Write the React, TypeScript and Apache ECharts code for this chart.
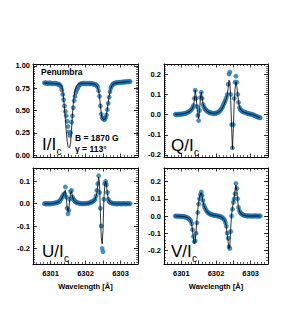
import React, { useEffect, useRef } from "react";
import * as echarts from "echarts";

// Wavelength sampling (Å)
const WAVELENGTH = [
  6300.825, 6300.85, 6300.875, 6300.9, 6300.925, 6300.95, 6300.975, 6301, 6301.025, 6301.05,
  6301.075, 6301.1, 6301.125, 6301.15, 6301.175, 6301.2, 6301.225, 6301.25, 6301.275, 6301.3,
  6301.325, 6301.35, 6301.375, 6301.4, 6301.425, 6301.45, 6301.475, 6301.5, 6301.525, 6301.55,
  6301.575, 6301.6, 6301.625, 6301.65, 6301.675, 6301.7, 6301.725, 6301.75, 6301.775, 6301.8,
  6301.825, 6301.85, 6301.875, 6301.9, 6301.925, 6301.95, 6301.975, 6302, 6302.025, 6302.05,
  6302.075, 6302.1, 6302.125, 6302.15, 6302.175, 6302.2, 6302.225, 6302.25, 6302.275, 6302.3,
  6302.325, 6302.35, 6302.375, 6302.4, 6302.425, 6302.45, 6302.475, 6302.5, 6302.525, 6302.55,
  6302.575, 6302.6, 6302.625, 6302.65, 6302.675, 6302.7, 6302.725, 6302.75, 6302.775, 6302.8,
  6302.825, 6302.85, 6302.875, 6302.9, 6302.925, 6302.95, 6302.975, 6303, 6303.025, 6303.05,
  6303.075, 6303.1, 6303.125, 6303.15, 6303.175, 6303.2, 6303.225, 6303.25, 6303.275,
];

const I_OBS = [
  0.81, 0.805, 0.81, 0.805, 0.8, 0.805, 0.81, 0.805, 0.8, 0.805,
  0.8, 0.8, 0.805, 0.8, 0.8, 0.795, 0.795, 0.79, 0.78, 0.765,
  0.73, 0.68, 0.62, 0.55, 0.49, 0.44, 0.38, 0.32, 0.26, 0.22,
  0.25, 0.37, 0.44, 0.53, 0.61, 0.66, 0.7, 0.73, 0.75, 0.77,
  0.785, 0.795, 0.8, 0.8, 0.805, 0.8, 0.805, 0.8, 0.8, 0.805,
  0.8, 0.8, 0.805, 0.8, 0.8, 0.8, 0.795, 0.795, 0.79, 0.785,
  0.78, 0.76, 0.72, 0.66, 0.55, 0.46, 0.42, 0.41, 0.4, 0.4,
  0.42, 0.45, 0.51, 0.58, 0.65, 0.71, 0.75, 0.775, 0.79, 0.8,
  0.805, 0.805, 0.81, 0.81, 0.81, 0.815, 0.81, 0.815, 0.815, 0.815,
  0.82, 0.815, 0.82, 0.82, 0.82, 0.825, 0.82, 0.825, 0.825,
];
const I_MODEL = [
  0.808, 0.808, 0.807, 0.806, 0.805, 0.805, 0.804, 0.803, 0.803, 0.802,
  0.802, 0.801, 0.8, 0.8, 0.799, 0.798, 0.796, 0.794, 0.79, 0.785,
  0.77, 0.72, 0.63, 0.52, 0.4, 0.27, 0.16, 0.1, 0.085, 0.09,
  0.14, 0.28, 0.44, 0.57, 0.66, 0.72, 0.76, 0.78, 0.79, 0.795,
  0.798, 0.8, 0.801, 0.801, 0.802, 0.802, 0.802, 0.802, 0.802, 0.802,
  0.802, 0.801, 0.8, 0.8, 0.799, 0.798, 0.796, 0.794, 0.79, 0.785,
  0.775, 0.755, 0.72, 0.66, 0.56, 0.47, 0.42, 0.4, 0.395, 0.4,
  0.42, 0.46, 0.52, 0.59, 0.66, 0.71, 0.75, 0.775, 0.79, 0.798,
  0.803, 0.806, 0.808, 0.81, 0.811, 0.812, 0.813, 0.814, 0.815, 0.816,
  0.817, 0.818, 0.818, 0.819, 0.82, 0.82, 0.821, 0.821, 0.822,
];

const Q_OBS = [
  0, 0.002, -0.001, 0.001, 0, 0.002, 0.001, 0.002, 0.003, 0.003,
  0.004, 0.005, 0.006, 0.008, 0.01, 0.012, 0.015, 0.018, 0.022, 0.027,
  0.033, 0.045, 0.08, 0.12, 0.08, 0.04, -0.005, -0.03, 0.02, 0.085,
  0.11, 0.08, 0.05, 0.038, 0.03, 0.024, 0.02, 0.016, 0.013, 0.011,
  0.009, 0.008, 0.007, 0.006, 0.005, 0.005, 0.006, 0.007, 0.008, 0.01,
  0.012, 0.016, 0.021, 0.027, 0.034, 0.042, 0.052, 0.062, 0.072, 0.085,
  0.1, 0.15, 0.2, 0.21, 0.1, -0.05, -0.165, -0.05, 0.08, 0.16,
  0.19, 0.16, 0.1, 0.06, 0.035, 0.025, 0.02, 0.017, 0.015, 0.013,
  0.011, 0.01, 0.008, 0.006, 0.005, 0.004, 0.003, 0.002, 0.001, 0,
  -0.002, -0.004, -0.006, -0.008, -0.01, -0.012, -0.013, -0.015, -0.016,
];
const Q_MODEL = [
  0.001, 0.001, 0.001, 0.002, 0.002, 0.002, 0.003, 0.003, 0.004, 0.004,
  0.005, 0.006, 0.007, 0.008, 0.01, 0.012, 0.014, 0.017, 0.021, 0.026,
  0.033, 0.045, 0.07, 0.12, 0.09, 0.04, 0, -0.02, 0.02, 0.08,
  0.11, 0.085, 0.055, 0.04, 0.031, 0.025, 0.02, 0.016, 0.013, 0.011,
  0.009, 0.008, 0.007, 0.006, 0.006, 0.006, 0.006, 0.007, 0.008, 0.01,
  0.012, 0.015, 0.019, 0.024, 0.03, 0.038, 0.047, 0.057, 0.068, 0.08,
  0.095, 0.13, 0.17, 0.16, 0.07, -0.06, -0.17, -0.07, 0.06, 0.13,
  0.16, 0.14, 0.1, 0.065, 0.04, 0.028, 0.021, 0.017, 0.014, 0.012,
  0.01, 0.009, 0.007, 0.006, 0.005, 0.004, 0.003, 0.002, 0.001, 0,
  -0.001, -0.003, -0.005, -0.007, -0.009, -0.011, -0.012, -0.014, -0.015,
];

const U_OBS = [
  0, 0.001, -0.001, 0, 0.001, 0, -0.001, 0.001, 0, 0.001,
  0.002, 0.002, 0.003, 0.004, 0.005, 0.006, 0.008, 0.01, 0.015, 0.02,
  0.028, 0.035, 0.04, 0.045, 0.075, 0.03, -0.02, -0.045, -0.03, 0.02,
  0.055, 0.06, 0.03, 0.02, 0.015, 0.01, 0.007, 0.005, 0.004, 0.003,
  0.002, 0.001, 0, 0, 0.001, 0, 0, 0.001, 0.001, 0.002,
  0.002, 0.003, 0.004, 0.006, 0.008, 0.01, 0.012, 0.015, 0.02, 0.035,
  0.06, 0.09, 0.125, 0.05, -0.02, -0.1, -0.2, -0.215, 0.02, 0.09,
  0.1, 0.085, 0.05, 0.02, 0.01, 0.006, 0.004, 0.003, 0.002, 0.001,
  0, 0.001, 0, -0.001, 0, 0.001, 0, 0, -0.001, 0,
  0.001, 0, 0, -0.001, 0, 0.001, 0, 0, 0,
];
const U_MODEL = [
  0, 0, 0, 0, 0, 0, 0, 0, 0.001, 0.001,
  0.001, 0.002, 0.002, 0.003, 0.004, 0.005, 0.007, 0.009, 0.013, 0.018,
  0.025, 0.033, 0.042, 0.055, 0.06, 0.025, -0.015, -0.035, -0.02, 0.02,
  0.05, 0.055, 0.035, 0.02, 0.013, 0.009, 0.006, 0.004, 0.003, 0.002,
  0.001, 0.001, 0, 0, 0, 0, 0, 0.001, 0.001, 0.001,
  0.002, 0.003, 0.004, 0.005, 0.007, 0.009, 0.011, 0.014, 0.02, 0.032,
  0.05, 0.08, 0.12, 0.09, -0.04, -0.15, -0.18, -0.12, 0.02, 0.08,
  0.1, 0.08, 0.045, 0.022, 0.012, 0.007, 0.004, 0.003, 0.002, 0.001,
  0.001, 0, 0, 0, 0, 0, 0, 0, 0, 0,
  0, 0, 0, 0, 0, 0, 0, 0, 0,
];

const V_OBS = [
  0, 0, -0.001, -0.001, -0.001, -0.002, -0.002, -0.002, -0.003, -0.003,
  -0.004, -0.005, -0.006, -0.008, -0.01, -0.013, -0.017, -0.022, -0.03, -0.045,
  -0.08, -0.12, -0.15, -0.145, -0.1, -0.04, 0.02, 0.07, 0.1, 0.125,
  0.14, 0.12, 0.09, 0.065, 0.05, 0.04, 0.03, 0.024, 0.019, 0.015,
  0.012, 0.01, 0.008, 0.006, 0.005, 0.004, 0.003, 0.002, 0.001, 0,
  -0.001, -0.002, -0.004, -0.006, -0.009, -0.013, -0.018, -0.025, -0.04, -0.06,
  -0.1, -0.13, -0.18, -0.19, -0.09, 0, 0.04, 0.08, 0.1, 0.13,
  0.19, 0.16, 0.1, 0.05, 0.03, 0.02, 0.014, 0.01, 0.007, 0.005,
  0.003, 0.002, 0.001, 0, 0, 0.001, 0, 0, -0.001, 0,
  0, 0, 0.001, 0, 0, 0, -0.001, 0, 0,
];
const V_MODEL = [
  0, 0, -0.001, -0.001, -0.001, -0.001, -0.002, -0.002, -0.003, -0.003,
  -0.004, -0.005, -0.006, -0.008, -0.01, -0.013, -0.017, -0.023, -0.032, -0.05,
  -0.09, -0.13, -0.16, -0.15, -0.09, -0.02, 0.04, 0.08, 0.11, 0.13,
  0.135, 0.115, 0.085, 0.063, 0.048, 0.038, 0.029, 0.023, 0.018, 0.014,
  0.011, 0.009, 0.007, 0.006, 0.005, 0.004, 0.003, 0.002, 0.001, 0,
  -0.001, -0.002, -0.004, -0.006, -0.009, -0.013, -0.019, -0.027, -0.042, -0.065,
  -0.11, -0.15, -0.19, -0.17, -0.07, 0.01, 0.05, 0.08, 0.11, 0.15,
  0.18, 0.15, 0.09, 0.05, 0.03, 0.019, 0.013, 0.009, 0.006, 0.004,
  0.003, 0.002, 0.001, 0, 0, 0, 0, 0, 0, 0,
  0, 0, 0, 0, 0, 0, 0, 0, 0,
];

const X_TICK_LABELS = [6301, 6302, 6303];
const I_TICKS = [0, 0.25, 0.5, 0.75, 1.0];
const Q_TICKS = [-0.2, -0.1, 0, 0.1, 0.2];
const U_TICKS = [-0.2, -0.1, 0, 0.1];
const V_TICKS = [-0.2, -0.1, 0, 0.1, 0.2];

const STOKES_LABELS = ["I/I", "Q/I", "U/I", "V/I"];
const X_NAME = "Wavelength [Å]";

const FONT = "'Liberation Sans', Arial, Helvetica, sans-serif";

const PANELS = [
  { obs: I_OBS, model: I_MODEL, min: -0.02, max: 1.02, fine: 0.02, ticks: I_TICKS, dec: 2, bottom: false },
  { obs: Q_OBS, model: Q_MODEL, min: -0.21, max: 0.25, fine: 0.01, ticks: Q_TICKS, dec: 1, bottom: false },
  { obs: U_OBS, model: U_MODEL, min: -0.27, max: 0.16, fine: 0.01, ticks: U_TICKS, dec: 1, bottom: true },
  { obs: V_OBS, model: V_MODEL, min: -0.28, max: 0.28, fine: 0.02, ticks: V_TICKS, dec: 1, bottom: true },
];

const RECTS = [
  { left: 33, top: 64, width: 105, height: 93 },
  { left: 164, top: 64, width: 104, height: 93 },
  { left: 33, top: 168, width: 105, height: 96 },
  { left: 164, top: 168, width: 104, height: 96 },
];
const LABEL_POS = [
  [42, 144],
  [171, 145],
  [42, 251],
  [171, 251],
];

const pair = (ys: number[]) => WAVELENGTH.map((w, i) => [w, ys[i]]);

function measure(text: string, font: string): number {
  const c = document.createElement("canvas").getContext("2d");
  if (!c) return text.length * 8;
  c.font = font;
  return c.measureText(text).width;
}

export default function App() {
  const ref = useRef<HTMLDivElement>(null);
  useEffect(() => {
    if (!ref.current) return;
    const chart = echarts.init(ref.current, null, { renderer: "svg" });
    const black = "#000";
    const grid: any[] = [];
    const xAxis: any[] = [];
    const yAxis: any[] = [];
    const series: any[] = [];
    const tickFont = { fontSize: 7.5, fontWeight: "bold", color: black, fontFamily: FONT };

    PANELS.forEach((p, k) => {
      grid[k] = { ...RECTS[k], containLabel: false };
      grid[k + 4] = { ...RECTS[k], containLabel: false };
    });

    PANELS.forEach((p, k) => {
      ["bottom", "top"].forEach((pos) => {
        xAxis.push({
          type: "value",
          gridIndex: k,
          position: pos,
          min: 6300.5,
          max: 6303.5,
          interval: 0.5,
          axisLine: { show: true, onZero: false, lineStyle: { color: black, width: 1 } },
          axisTick: { show: true, inside: true, length: 3.5, lineStyle: { color: black, width: 0.8 } },
          minorTick: { show: true, splitNumber: 5, length: 2, lineStyle: { color: black, width: 0.6 } },
          axisLabel: {
            show: pos === "bottom" && p.bottom,
            customValues: X_TICK_LABELS,
            formatter: (v: number) => String(Math.round(v)),
            margin: 5,
            ...tickFont,
          },
          splitLine: { show: false },
          name: pos === "bottom" && p.bottom ? X_NAME : "",
          nameLocation: "middle",
          nameGap: 18,
          nameTextStyle: { fontSize: 7.5, fontWeight: "bold", color: black, fontFamily: FONT },
        });
      });
      ["left", "right"].forEach((pos) => {
        yAxis.push({
          type: "value",
          gridIndex: k,
          position: pos,
          min: p.min,
          max: p.max,
          interval: p.fine,
          axisLine: { show: true, onZero: false, lineStyle: { color: black, width: 1 } },
          axisTick: { show: true, inside: true, length: 2, lineStyle: { color: black, width: 0.6 } },
          axisLabel: {
            show: pos === "left",
            customValues: p.ticks,
            formatter: (v: number) => v.toFixed(p.dec),
            margin: 3,
            ...tickFont,
          },
          splitLine: { show: false },
        });
      });
    });
    // overlay grids: longer major ticks on y
    PANELS.forEach((p, k) => {
      xAxis.push({ type: "value", gridIndex: k + 4, show: false, min: 0, max: 1 });
      ["left", "right"].forEach((pos) => {
        yAxis.push({
          type: "value",
          gridIndex: k + 4,
          position: pos,
          min: p.min,
          max: p.max,
          axisLine: { show: false },
          axisTick: { show: true, inside: true, length: 4, customValues: p.ticks, lineStyle: { color: black, width: 0.8 } },
          axisLabel: { show: false },
          splitLine: { show: false },
        });
      });
    });

    PANELS.forEach((p, k) => {
      series.push({
        type: "scatter",
        xAxisIndex: 2 * k,
        yAxisIndex: 2 * k,
        data: pair(p.obs),
        symbol: "circle",
        symbolSize: 4.5,
        itemStyle: { color: "#1f77b4", borderColor: "#1a6aa3", borderWidth: 0.3 },
        z: 2,
        silent: true,
      });
      series.push({
        type: "line",
        xAxisIndex: 2 * k,
        yAxisIndex: 2 * k,
        data: pair(p.model),
        showSymbol: false,
        symbol: "none",
        lineStyle: { color: black, width: 0.8 },
        z: 3,
        silent: true,
      });
    });

    const bigSize = 17;
    const bigFont = `${bigSize}px ${FONT}`;
    const graphic: any[] = [];
    STOKES_LABELS.forEach((t, k) => {
      const [x, y] = LABEL_POS[k];
      const w = measure(t, bigFont);
      graphic.push({
        type: "text",
        x,
        y,
        style: { text: t, fontSize: bigSize, fontFamily: FONT, fill: black, align: "left", verticalAlign: "middle", textAlign: "left", textVerticalAlign: "middle" },
      });
      graphic.push({
        type: "text",
        x: x + w + 0.3,
        y: y + 7.5,
        style: { text: "c", fontSize: 10, fontFamily: FONT, fill: black, align: "left", verticalAlign: "middle", textAlign: "left", textVerticalAlign: "middle" },
      });
    });
    const note = (text: string, x: number, y: number, size: number) => ({
      type: "text",
      x,
      y,
      style: { text, fontSize: size, fontWeight: "bold", fontFamily: FONT, fill: black, align: "left", verticalAlign: "middle", textAlign: "left", textVerticalAlign: "middle" },
    });
    graphic.push(note("Penumbra", 41, 72, 8.5));
    graphic.push(note("B = 1870 G", 75, 138, 8.5));
    graphic.push(note("γ = 113°", 75, 148.5, 8.5));

    chart.setOption({
      animation: false,
      backgroundColor: "#fff",
      grid,
      xAxis,
      yAxis,
      series,
      graphic,
    });
    return () => chart.dispose();
  }, []);
  return <div ref={ref} style={{ position: "absolute", left: 0, top: 0, width: 291, height: 321 }} />;
}
